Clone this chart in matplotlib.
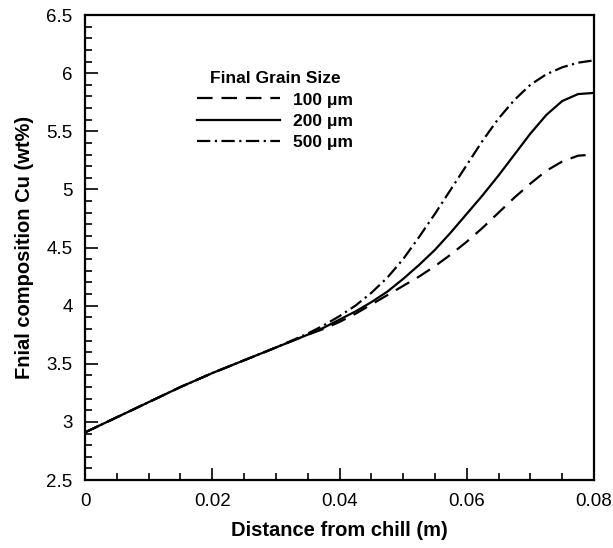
import matplotlib
matplotlib.use('Agg')
import matplotlib.pyplot as plt
from matplotlib.ticker import MultipleLocator

plt.rcParams['font.family'] = ['Liberation Sans', 'DejaVu Sans']

# distance from chill (m)
x = [0, 0.005, 0.01, 0.015, 0.02, 0.025, 0.03, 0.035, 0.0375, 0.04, 0.0425,
     0.045, 0.0475, 0.05, 0.0525, 0.055, 0.0575, 0.06, 0.0625, 0.065, 0.0675,
     0.07, 0.0725, 0.075, 0.0775, 0.08]

# final Cu composition (wt%) for each grain size
cu_100 = [2.91, 3.04, 3.17, 3.30, 3.42, 3.53, 3.64, 3.75, 3.80, 3.86, 3.93,
          4.01, 4.09, 4.17, 4.25, 4.34, 4.44, 4.55, 4.67, 4.80, 4.93,
          5.05, 5.16, 5.24, 5.29, 5.30]
cu_200 = [2.91, 3.04, 3.17, 3.30, 3.42, 3.53, 3.64, 3.75, 3.81, 3.88, 3.95,
          4.03, 4.12, 4.23, 4.35, 4.48, 4.63, 4.79, 4.95, 5.12, 5.30,
          5.48, 5.64, 5.76, 5.82, 5.83]
cu_500 = [2.91, 3.04, 3.17, 3.30, 3.42, 3.53, 3.64, 3.76, 3.83, 3.91, 4.00,
          4.11, 4.24, 4.40, 4.59, 4.79, 5.00, 5.21, 5.42, 5.61, 5.77,
          5.90, 5.99, 6.05, 6.09, 6.11]

labels = ['100 \u03bcm', '200 \u03bcm', '500 \u03bcm']

fig = plt.figure(figsize=(6.13, 5.48), dpi=100)
ax = fig.add_axes([0.1387, 0.124, 0.8303, 0.8486])

ax.plot(x, cu_100, color='black', lw=1.6, dashes=(7, 4), label=labels[0])
ax.plot(x, cu_200, color='black', lw=1.6, label=labels[1])
ax.plot(x, cu_500, color='black', lw=1.6, dashes=(6, 2, 1, 2), label=labels[2])

ax.set_xlim(0, 0.08)
ax.set_ylim(2.5, 6.5)
ax.xaxis.set_major_locator(MultipleLocator(0.02))
ax.xaxis.set_minor_locator(MultipleLocator(0.005))
ax.yaxis.set_major_locator(MultipleLocator(0.5))
ax.yaxis.set_minor_locator(MultipleLocator(0.1))
ax.xaxis.set_major_formatter(plt.FuncFormatter(lambda v, p: '%g' % v))
ax.yaxis.set_major_formatter(plt.FuncFormatter(lambda v, p: '%g' % v))

ax.tick_params(which='both', direction='in', top=False, right=False,
               labelsize=13.5, width=1.2, pad=9)
ax.tick_params(which='major', length=9)
ax.tick_params(which='minor', length=5)
for s in ax.spines.values():
    s.set_linewidth(1.6)

ax.set_xlabel('Distance from chill (m)', fontsize=14.5, fontweight='bold', labelpad=8)
ax.set_ylabel('Fnial composition Cu (wt%)', fontsize=14.5, fontweight='bold', labelpad=9)

leg = ax.legend(title='Final Grain Size', frameon=False, fontsize=12.5,
                handlelength=4.8, handletextpad=0.75, labelspacing=0.35,
                loc='upper left', bbox_to_anchor=(0.22, 0.879), borderpad=0,
                borderaxespad=0)
leg.get_title().set_fontweight('bold')
leg.get_title().set_fontsize(12.5)
for t in leg.get_texts():
    t.set_fontweight('bold')

fig.savefig('out.png', dpi=100)
